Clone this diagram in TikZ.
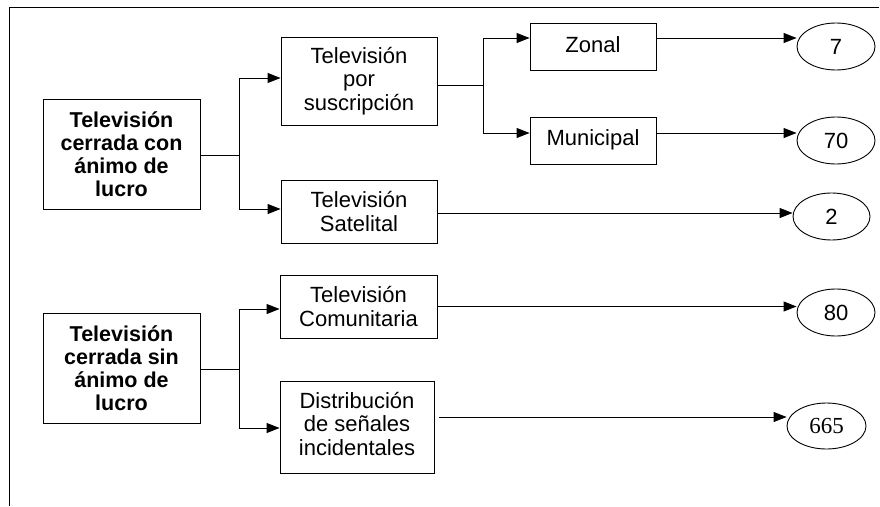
\documentclass[tikz,border=0pt]{standalone}
\usepackage{fontspec}
\setmainfont{Liberation Sans}
\newfontfamily\serifnum{Liberation Serif}
\usetikzlibrary{arrows.meta,shapes.geometric}
\begin{document}
\begin{tikzpicture}[x=1pt,y=-1pt,
  box/.style={draw, line width=0.9pt, align=center, inner sep=0pt, font=\fontsize{22}{23.5}\selectfont},
  bbox/.style={box, font=\bfseries\fontsize{21.5}{23}\selectfont},
  num/.style={draw, ellipse, line width=0.9pt, inner sep=0pt, font=\fontsize{22}{23.5}\selectfont},
  arr/.style={line width=0.9pt, -{Triangle[length=13pt,width=10pt]}},
  ln/.style={line width=0.9pt}]
\useasboundingbox (0,0) rectangle (880,506);
% frame
\draw[ln] (9,506) -- (9,7) -- (879,7);
% left boxes
\node[bbox, minimum width=157pt, minimum height=110pt] (b1) at (121.5,154) {Televisión\\cerrada con\\ánimo de\\lucro};
\node[bbox, minimum width=157pt, minimum height=110pt] (b2) at (121.5,368) {Televisión\\cerrada sin\\ánimo de\\lucro};
% middle boxes
\node[box, minimum width=156pt, minimum height=88pt] (tvs) at (359,81) {Televisión\\por\\suscripción};
\node[box, minimum width=156pt, minimum height=63pt] (sat) at (359,211.5) {Televisión\\Satelital};
\node[box, minimum width=157pt, minimum height=63pt] (com) at (358.5,306.5) {Televisión\\Comunitaria};
\node[box, minimum width=154pt, minimum height=92pt] (dist) at (357,427) {\raisebox{2pt}{\begin{tabular}{@{}c@{}}Distribución\\de señales\\incidentales\end{tabular}}};
% right boxes
\node[box, minimum width=126pt, minimum height=47pt] (zon) at (593,46.5) {\raisebox{3pt}{Zonal}};
\node[box, minimum width=126pt, minimum height=47pt] (mun) at (593,140.5) {\raisebox{5pt}{Municipal}};
% ellipses
\node[num, minimum width=78pt, minimum height=47pt] (e7) at (836,46.5) {7};
\node[num, minimum width=78pt, minimum height=47pt] (e70) at (836,140.5) {70};
\node[num, minimum width=77pt, minimum height=47pt] (e2) at (831.5,216.5) {2};
\node[num, minimum width=78pt, minimum height=47pt] (e80) at (836,312.5) {80};
\node[num, minimum width=79pt, minimum height=46pt, font=\serifnum\fontsize{23}{24}\selectfont] (e665) at (826.5,426) {665};
% junctions
\coordinate (j1) at ([xshift=39pt,yshift=-1pt]b1.east);
\coordinate (j2) at ([xshift=46pt,yshift=-4pt]tvs.east);
\coordinate (j3) at ([xshift=39pt,yshift=-1pt]b2.east);
% connectors group 1
\draw[ln] ([yshift=-1pt]b1.east) -- (j1);
\draw[arr] (j1) |- ([yshift=3pt]tvs.west);
\draw[arr] (j1) |- ([yshift=2.5pt]sat.west);
\draw[ln] ([yshift=-4pt]tvs.east) -- (j2);
\draw[arr] (j2) |- ([yshift=8.5pt]zon.west);
\draw[arr] (j2) |- ([yshift=7.5pt]mun.west);
\draw[arr] ([yshift=8.5pt]zon.east) -- ([yshift=8.5pt]zon.east -| e7.west);
\draw[arr] ([yshift=7.5pt]mun.east) -- ([yshift=7.5pt]mun.east -| e70.west);
\draw[arr] ([yshift=-1.5pt]sat.east) -- ([yshift=-1.5pt]sat.east -| e2.west);
% connectors group 2
\draw[ln] ([yshift=-1pt]b2.east) -- (j3);
\draw[arr] (j3) |- ([yshift=-2.5pt]com.west);
\draw[arr] (j3) |- ([yshift=-1pt]dist.west);
\draw[arr] (com.east) -- (com.east -| e80.west);
\draw[arr] ([xshift=5pt,yshift=10pt]dist.east) -- ([yshift=10pt]dist.east -| e665.west);
\end{tikzpicture}
\end{document}
